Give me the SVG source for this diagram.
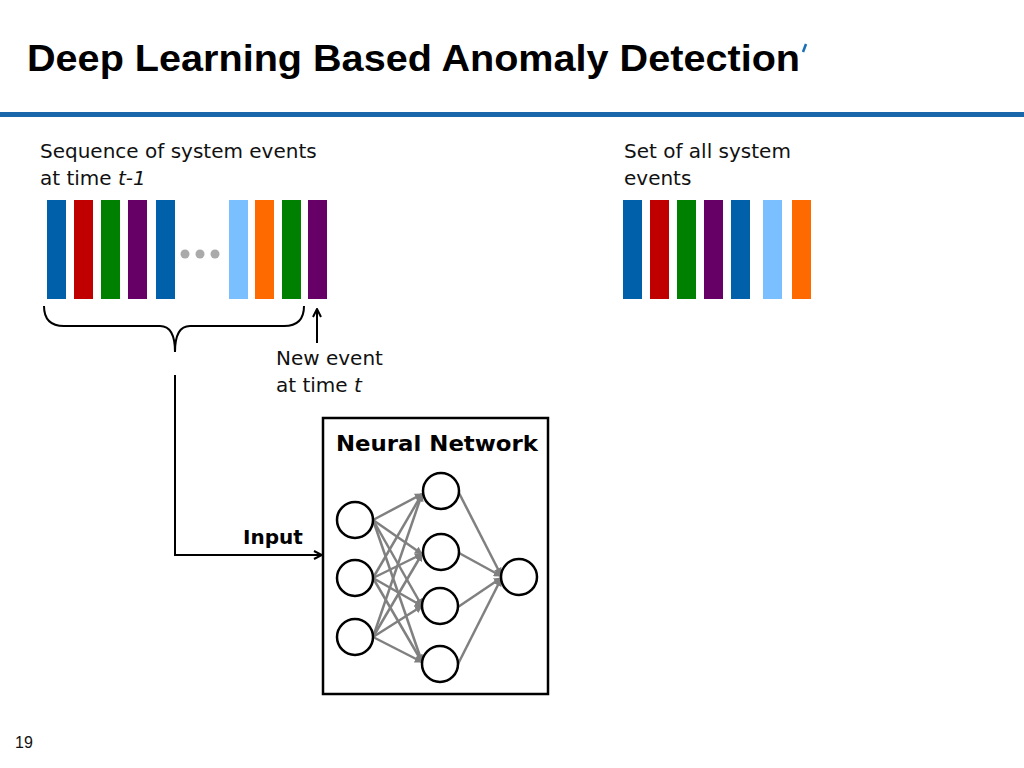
<svg xmlns="http://www.w3.org/2000/svg" width="1024" height="768" viewBox="0 0 1024 768">
<style>
text{font-family:"Liberation Sans",Arial,sans-serif;}
.t{font-family:"DejaVu Sans","Noto Sans",sans-serif;font-size:20px;fill:#111}
.b{font-family:"DejaVu Sans","Noto Sans",sans-serif;font-weight:bold;fill:#000}
.n{fill:#fff;stroke:#000;stroke-width:2.5}
.e{stroke:#808080;stroke-width:2.5;fill:none;marker-end:url(#g)}
</style>
<defs>
<marker id="g" markerWidth="8" markerHeight="8" refX="7" refY="4" orient="auto" markerUnits="userSpaceOnUse" viewBox="0 0 8 8"><path d="M0,0 L8,4 L0,8 Z" fill="#808080"/></marker>
<marker id="k" markerWidth="10" markerHeight="10" refX="9" refY="5" orient="auto" markerUnits="userSpaceOnUse" viewBox="0 0 10 10"><path d="M1,1 L9,5 L1,9" fill="none" stroke="#000" stroke-width="2"/></marker>
</defs>
<rect width="1024" height="768" fill="#fff"/>
<text x="27" y="71" font-size="36" font-weight="bold" fill="#000" textLength="773" lengthAdjust="spacingAndGlyphs">Deep Learning Based Anomaly Detection</text>
<line x1="806" y1="44" x2="803" y2="52" stroke="#1a6fb5" stroke-width="2.5"/>
<rect x="0" y="112" width="1024" height="5" fill="#1a66aa"/>
<g id="left-text"><text class="t" x="40" y="158">Sequence of system events</text><text class="t" x="40" y="185">at time <tspan font-style="italic">t-1</tspan></text></g>
<g id="right-text"><text class="t" x="624" y="158">Set of all system</text><text class="t" x="624" y="185">events</text></g>
<g id="seq">
<rect x="47" y="200" width="19" height="99" fill="#0060AA"/>
<rect x="74" y="200" width="19" height="99" fill="#C00000"/>
<rect x="101" y="200" width="19" height="99" fill="#008000"/>
<rect x="128" y="200" width="19" height="99" fill="#660066"/>
<rect x="156" y="200" width="19" height="99" fill="#0060AA"/>
<circle cx="185" cy="254" r="4.5" fill="#aaa"/><circle cx="200" cy="254" r="4.5" fill="#aaa"/><circle cx="215" cy="254" r="4.5" fill="#aaa"/>
<rect x="229" y="200" width="19" height="99" fill="#7ABFFF"/>
<rect x="255" y="200" width="19" height="99" fill="#FF6A00"/>
<rect x="282" y="200" width="19" height="99" fill="#008000"/>
<rect x="308" y="200" width="19" height="99" fill="#660066"/>
</g>
<g id="set">
<rect x="623" y="200" width="19" height="99" fill="#0060AA"/>
<rect x="650" y="200" width="19" height="99" fill="#C00000"/>
<rect x="677" y="200" width="19" height="99" fill="#008000"/>
<rect x="704" y="200" width="19" height="99" fill="#660066"/>
<rect x="731" y="200" width="19" height="99" fill="#0060AA"/>
<rect x="763" y="200" width="19" height="99" fill="#7ABFFF"/>
<rect x="792" y="200" width="19" height="99" fill="#FF6A00"/>
</g>
<g id="connectors" fill="none" stroke="#000" stroke-width="2">
<path d="M44,306 Q44,326 64,326 L160,326 Q175,326 175,352 Q175,326 190,326 L284,326 Q304,326 304,306"/>
<line x1="317" y1="343" x2="317" y2="309" marker-end="url(#k)"/>
<polyline points="175,375 175,555 322,555" marker-end="url(#k)"/>
</g>
<g id="new-event"><text class="t" x="276" y="365">New event</text><text class="t" x="276" y="392">at time <tspan font-style="italic">t</tspan></text></g>
<text class="b" x="243" y="544" font-size="20">Input</text>
<g id="nn">
<rect x="323" y="418" width="225" height="276" fill="#fff" stroke="#000" stroke-width="2.5"/>
<text class="b" x="336" y="451" font-size="22" textLength="202" lengthAdjust="spacingAndGlyphs">Neural Network</text>
<g id="edges">
<line class="e" x1="373" y1="520" x2="422" y2="494"/><line class="e" x1="373" y1="520" x2="422" y2="554"/><line class="e" x1="373" y1="520" x2="422" y2="606"/><line class="e" x1="373" y1="520" x2="422" y2="662"/>
<line class="e" x1="373" y1="578" x2="422" y2="494"/><line class="e" x1="373" y1="578" x2="422" y2="554"/><line class="e" x1="373" y1="578" x2="422" y2="606"/><line class="e" x1="373" y1="578" x2="422" y2="662"/>
<line class="e" x1="373" y1="637" x2="422" y2="494"/><line class="e" x1="373" y1="637" x2="422" y2="554"/><line class="e" x1="373" y1="637" x2="422" y2="606"/><line class="e" x1="373" y1="637" x2="422" y2="662"/>
<line class="e" x1="459" y1="493" x2="501" y2="575"/><line class="e" x1="459" y1="553" x2="501" y2="576"/><line class="e" x1="458" y1="607" x2="501" y2="578"/><line class="e" x1="458" y1="664" x2="501" y2="579"/>
</g>
<circle class="n" cx="355" cy="520" r="18"/><circle class="n" cx="355" cy="578" r="18"/><circle class="n" cx="355" cy="637" r="18"/>
<circle class="n" cx="441" cy="491" r="18"/><circle class="n" cx="441" cy="552" r="18"/><circle class="n" cx="440" cy="606" r="18"/><circle class="n" cx="440" cy="664" r="18"/>
<circle class="n" cx="519" cy="577" r="18"/>
</g>
<text x="15" y="748" font-size="16" fill="#111">19</text>
</svg>
